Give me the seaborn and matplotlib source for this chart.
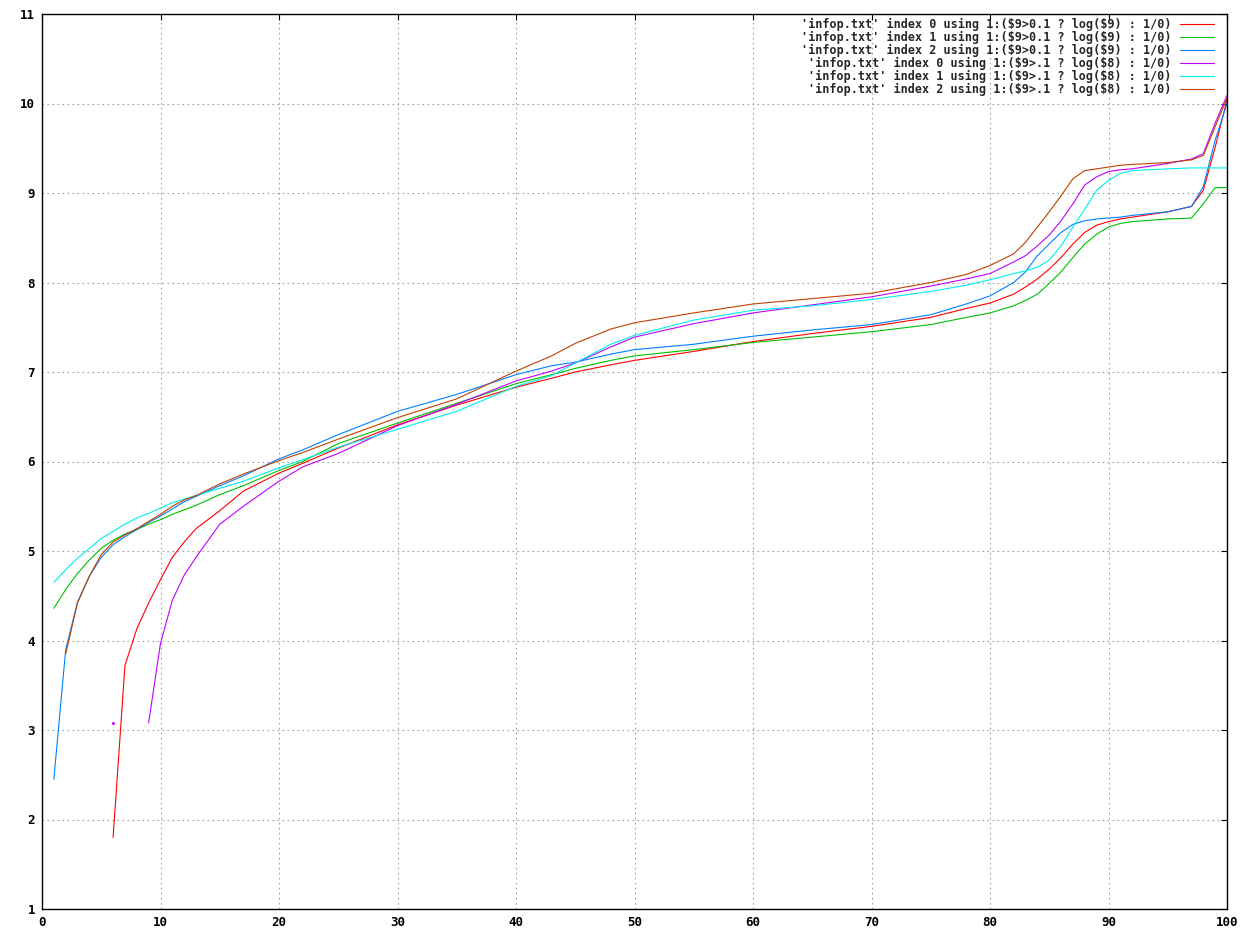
import numpy as np
import pandas as pd
import matplotlib
matplotlib.use("Agg")
import matplotlib.pyplot as plt
import seaborn as sns

xs = [1, 2, 3, 4, 5, 6, 7, 8, 9, 10, 11, 12, 13, 15, 17, 20, 22, 25, 30, 35,
      40, 43, 45, 48, 50, 55, 60, 65, 70, 75, 78, 80, 82, 83, 84, 85, 86, 87,
      88, 89, 90, 91, 92, 95, 97, 98, 99, 100]

nan = np.nan
red = [nan, nan, nan, nan, nan, 1.80, 3.72, 4.13, 4.42, 4.68, 4.93, 5.10, 5.25, 5.45, 5.67, 5.87,
       5.98, 6.15, 6.41, 6.63, 6.83, 6.93, 7.00, 7.08, 7.13, 7.23, 7.34, 7.43, 7.51, 7.61, 7.71,
       7.77, 7.87, 7.95, 8.04, 8.15, 8.28, 8.43, 8.56, 8.64, 8.68, 8.71, 8.73, 8.79, 8.85, 9.03,
       9.51, 10.04]
green = [4.36, 4.57, 4.75, 4.90, 5.03, 5.12, 5.19, 5.24, 5.30, 5.35, 5.41, 5.46, 5.51, 5.63, 5.73,
         5.90, 6.00, 6.20, 6.43, 6.65, 6.87, 6.97, 7.04, 7.13, 7.18, 7.25, 7.33, 7.39, 7.45, 7.53,
         7.61, 7.66, 7.74, 7.80, 7.87, 7.99, 8.12, 8.28, 8.43, 8.54, 8.62, 8.66, 8.68, 8.71, 8.72,
         8.88, 9.06, 9.06]
blue = [2.45, 3.90, 4.43, 4.72, 4.93, 5.07, 5.16, 5.24, 5.32, 5.39, 5.47, 5.55, 5.61, 5.73, 5.84,
        6.03, 6.13, 6.30, 6.56, 6.75, 6.97, 7.07, 7.11, 7.20, 7.25, 7.31, 7.40, 7.47, 7.53, 7.64,
        7.76, 7.85, 8.00, 8.12, 8.30, 8.43, 8.56, 8.65, 8.69, 8.71, 8.72, 8.73, 8.75, 8.79, 8.85,
        9.07, 9.59, 10.00]
magenta = [nan, nan, nan, nan, nan, nan, nan, nan, 3.08, 3.97, 4.45, 4.73, 4.93, 5.30, 5.50, 5.78,
           5.94, 6.09, 6.40, 6.64, 6.90, 7.01, 7.10, 7.28, 7.39, 7.54, 7.66, 7.75, 7.84, 7.96, 8.04,
           8.10, 8.23, 8.30, 8.41, 8.53, 8.69, 8.88, 9.09, 9.18, 9.24, 9.26, 9.27, 9.33, 9.38, 9.44,
           9.78, 10.09]
cyan = [4.65, 4.79, 4.92, 5.03, 5.14, 5.22, 5.30, 5.37, 5.42, 5.48, 5.54, 5.58, 5.62, 5.70, 5.78,
        5.93, 6.02, 6.16, 6.36, 6.56, 6.84, 6.96, 7.10, 7.31, 7.41, 7.58, 7.69, 7.74, 7.81, 7.90,
        7.97, 8.03, 8.10, 8.13, 8.17, 8.25, 8.41, 8.62, 8.82, 9.03, 9.14, 9.22, 9.25, 9.27, 9.28,
        9.28, 9.28, 9.28]
brown = [nan, 3.85, 4.42, 4.72, 4.96, 5.10, 5.18, 5.25, 5.33, 5.41, 5.50, 5.57, 5.62, 5.75, 5.86,
         6.01, 6.10, 6.25, 6.49, 6.70, 7.01, 7.18, 7.32, 7.48, 7.55, 7.66, 7.76, 7.82, 7.88, 8.00,
         8.09, 8.19, 8.32, 8.45, 8.62, 8.79, 8.97, 9.16, 9.25, 9.27, 9.29, 9.31, 9.32, 9.34, 9.37,
         9.42, 9.74, 10.06]

# lone magenta point (isolated sample, not connected)
stray_x = [6]
stray_y = [3.08]

labels = [
    "'infop.txt' index 0 using 1:($9>0.1 ? log($9) : 1/0)",
    "'infop.txt' index 1 using 1:($9>0.1 ? log($9) : 1/0)",
    "'infop.txt' index 2 using 1:($9>0.1 ? log($9) : 1/0)",
    "'infop.txt' index 0 using 1:($9>.1 ? log($8) : 1/0)",
    "'infop.txt' index 1 using 1:($9>.1 ? log($8) : 1/0)",
    "'infop.txt' index 2 using 1:($9>.1 ? log($8) : 1/0)",
]
series = [red, green, blue, magenta, cyan, brown]
colors = ["#ff0000", "#00c000", "#0080ff", "#c000ff", "#00eeee", "#c04000"]

sns.set_style("white")
plt.rcParams["font.family"] = ["DejaVu Sans Mono"]
plt.rcParams["font.weight"] = "bold"
plt.rcParams["text.parse_math"] = False  # labels contain literal $ signs

fig = plt.figure(figsize=(12.48, 9.36), dpi=100)
ax = fig.add_axes([42 / 1248, 1 - 909 / 936, (1227 - 42) / 1248, (909 - 14) / 936])

for vals, col, lab in zip(series, colors, labels):
    df = pd.DataFrame({"x": xs, "y": vals})
    sns.lineplot(data=df, x="x", y="y", color=col, linewidth=0.8, label=lab, ax=ax)

ax.plot(stray_x, stray_y, linestyle="none", marker="s", markersize=1, color="#c000ff")

ax.set_xlim(0, 100)
ax.set_ylim(1, 11)
ax.set_xticks(range(0, 101, 10))
ax.set_yticks(range(1, 12))
ax.set_xlabel("")
ax.set_ylabel("")
ax.grid(True, color="#a0a0a0", linestyle=(0, (1.5, 3)), linewidth=0.8)
ax.tick_params(direction="in", length=4, width=0.8, top=True, right=True,
               labelsize=9, pad=5, colors="black")
for lbl in ax.get_xticklabels() + ax.get_yticklabels():
    lbl.set_fontweight("bold")
for sp in ax.spines.values():
    sp.set_visible(True)
    sp.set_color("black")
    sp.set_linewidth(1)

ax.legend(loc="upper right", bbox_to_anchor=(0.989, 0.996), frameon=False, markerfirst=False,
          prop={"family": "DejaVu Sans Mono", "weight": "bold", "size": 8.5},
          handlelength=2.9, handletextpad=0.7, labelspacing=0.0,
          borderaxespad=0, borderpad=0)

fig.savefig("out.png", dpi=100)
